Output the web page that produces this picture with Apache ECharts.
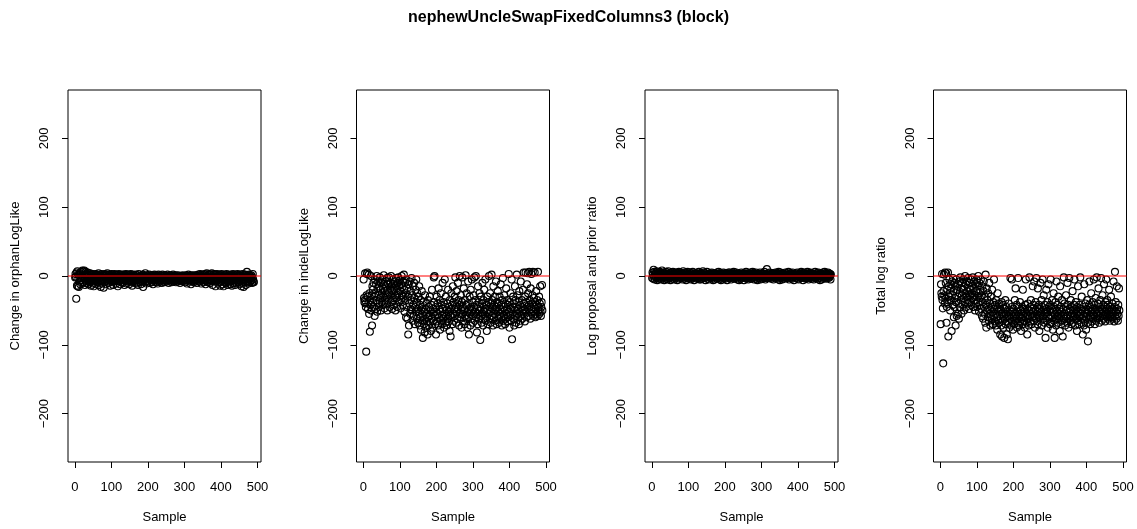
<!DOCTYPE html>
<html>
<head>
<meta charset="utf-8">
<title>nephewUncleSwapFixedColumns3 (block)</title>
<script src="https://cdn.jsdelivr.net/npm/echarts@6/dist/echarts.min.js"></script>
<style>
  html, body { margin: 0; padding: 0; background: #ffffff; }
  #chart { width: 1137px; height: 529px; }
</style>
</head>
<body>
<div id="chart"></div>
<script>
// Per-sample diagnostics of the nephewUncleSwapFixedColumns3 (block) move, samples 1..490.
const chartTitle = 'nephewUncleSwapFixedColumns3 (block)';
const panelTitles = ['Change in orphanLogLike', 'Change in indelLogLike', 'Log proposal and prior ratio', 'Total log ratio'];
const xTickValues = [0, 100, 200, 300, 400, 500];
const yTickValues = [-200, -100, 0, 100, 200];
const xAxisName = 'Sample';
const referenceLevel = 0;

const orphanLogLike = [
  -2, 3, -1, -33, 5, -14, 7, -15, 2, -4,
  -16, 1, -8, 4, -12, -3, 6, -6, 0, -11,
  8, -2, 7, -9, 2, 8, -5, -13, 1, 6,
  -7, 3, -10, -1, 5, -4, -12, 0, -6, 2,
  -9, 4, -3, -14, 1, -5, 3, -8, -1, -11,
  2, -15, -4, 0, -7, 3, -2, -12, 1, -6,
  -3, 2, -9, -1, 4, -13, -5, 1, -8, 0,
  -16, -2, 3, -7, -11, 1, -4, 2, -17, -6,
  0, -9, 3, -3, -12, 1, -5, -1, 4, -8,
  -2, -10, 2, -6, 0, -3, -14, 1, -7, 3,
  -4, -1, -9, 2, -13, -5, 0, -8, 3, -2,
  -6, 1, -11, -3, 2, -7, -1, -15, 0, -4,
  3, -8, -2, -12, 1, -5, -1, -9, 2, -3,
  -10, 0, -6, 2, -4, -13, 1, -7, -2, 3,
  -5, -11, 0, -3, 2, -8, -1, -6, -12, 1,
  -2, -7, 3, -9, -4, 0, -14, -1, 2, -6,
  -8, 1, -3, -10, 0, -5, 2, -2, -11, -4,
  1, -6, -13, -2, 3, -7, -1, -9, 0, -4,
  -12, -3, 1, -8, -5, 2, -16, -1, -6, 0,
  -3, -9, 4, -4, -1, -11, 1, -7, -2, -5,
  0, -8, -3, 2, -10, -1, -5, 1, -6, -2,
  -9, 0, -4, -12, 1, -3, -7, 2, -1, -5,
  -2, -6, 1, -9, -3, 0, -11, -4, 2, -7,
  -1, -5, -8, 1, -2, -6, 0, -10, -3, 2,
  -4, -7, 0, -3, -9, 1, -5, -2, -6, 0,
  -8, -1, -4, 2, -6, -3, -10, 0, -5, -2,
  1, -7, -3, -1, -9, 0, -4, -6, 2, -8,
  -3, -5, 0, -7, -2, 1, -9, -4, -1, -6,
  -2, -8, 1, -4, -6, -1, -3, -10, 0, -5,
  -7, 0, -3, -5, 1, -8, -2, -4, -6, 0,
  -1, -9, -3, 1, -6, -2, -11, 0, -4, -7,
  2, -5, -1, -8, -3, 0, -6, -12, 1, -4,
  -3, -7, 0, -2, -9, 1, -5, -1, -8, -4,
  -6, 1, -4, -10, 0, -2, -7, 2, -3, -5,
  -1, -8, 3, -5, -2, -11, 0, -4, -6, 2,
  -3, -9, 1, -1, -7, 3, -5, -12, 0, -2,
  4, -6, -2, -9, 1, -4, 3, -8, -1, -5,
  -10, 2, -3, -6, 4, -1, -13, 0, -5, 3,
  -2, -7, 1, -4, -15, 2, -8, -1, 3, -6,
  -3, -11, 0, -5, 2, -9, -1, -14, 1, -4,
  -7, 3, -2, -12, 0, -6, -15, 1, -4, -9,
  2, -3, -10, -1, -6, 3, -8, -13, 0, -4,
  -5, 1, -9, -2, -12, 2, -7, -1, -4, -14,
  0, -6, 3, -10, -3, 1, -8, -1, -13, -5,
  2, -4, -11, 0, -7, 3, -2, -9, -5, 1,
  -12, -3, 0, -8, 2, -15, -5, -1, -10, 3,
  -6, -16, 1, -4, -9, 2, -2, -13, 0, -7,
  6, -3, -8, 1, -11, -5, 2, -2, -9, 0,
  -4, -7, 1, -6, -10, -2, 3, -5, -8, -9
];

const indelLogLike = [
  -5, -32, -38, -35, 4, -40, -45, -110, -28, 3,
  5, -30, -48, -40, 2, -55, -25, -81, -35, -42,
  0, -50, -28, -72, -15, -20, -38, -10, -45, -30,
  -58, -5, -25, -48, -12, -35, 0, -52, -18, -40,
  -8, -28, -45, -15, -2, -32, -20, -50, -10, -38,
  -25, -5, -42, -18, -30, 1, -12, -47, -22, -35,
  -15, -40, -8, -28, -3, -50, -20, -12, -33, -2,
  -25, -45, -10, -18, -38, 0, -30, -15, -48, -22,
  -5, -35, -12, -42, -20, -8, -28, -50, -15, -3,
  -32, -18, -45, -10, -25, -2, -38, -14, -30, -6,
  -22, -47, -12, -35, 0, -28, -16, -42, -8, -30,
  2, -20, -52, -10, -36, -25, -60, -5, -45, -18,
  -62, -30, -85, -12, -72, -40, -8, -55, -22, -48,
  -35, -3, -50, -28, -65, -15, -42, -58, -10, -32,
  -70, -45, -20, -52, -5, -38, -62, -25, -48, -68,
  -30, -55, -15, -72, -42, -60, -35, -78, -50, -22,
  -65, -45, -90, -58, -38, -70, -52, -82, -28, -62,
  -48, -75, -40, -66, -55, -85, -35, -60, -72, -45,
  -58, -30, -68, -50, -80, -42, -62, -20, -75, -55,
  -48, -65, -2, -38, 0, -58, -70, -45, -85, -52,
  -30, -66, -55, -40, -72, -18, -60, -48, -35, -78,
  -52, -25, -65, -42, -70, -58, -10, -48, -62, -38,
  -75, -55, -5, -45, -68, -30, -58, -50, -72, -40,
  -62, -20, -52, -66, -45, -80, -35, -58, -88, -48,
  -25, -60, -42, -70, -15, -55, -38, -65, -48, -30,
  -58, -2, -45, -68, -22, -52, -40, -62, -10, -48,
  -35, -72, -55, 0, -42, -60, -28, -50, -75, -38,
  -2, -55, -45, -65, -18, -50, -70, -35, -58, 1,
  -42, -62, -25, -52, -75, -40, -8, -60, -85, -48,
  -30, -55, -72, -20, -45, -62, -5, -50, -38, -68,
  -58, -28, -45, -2, -65, -52, -35, 0, -60, -42,
  -82, -48, -70, -15, -55, -38, -62, -25, -50, -93,
  -45, -30, -58, -68, -40, -10, -55, -72, -35, -52,
  -20, -62, -48, -5, -65, -42, -58, -80, -30, -50,
  -70, -38, -55, 0, -45, -62, -25, -52, -68, -40,
  2, -58, -35, -48, -72, -15, -60, -42, -55, -30,
  -65, -50, -8, -45, -70, -38, -58, -22, -52, -62,
  -40, -68, -30, -55, -48, -12, -60, -42, -72, -35,
  -52, -3, -65, -45, -58, -28, -50, -70, -40, -62,
  -18, -55, -48, -35, -66, -42, -60, 3, -52, -75,
  -38, -58, -25, -48, -65, -5, -92, -45, -55, -30,
  -62, -40, -72, -50, -15, -58, -35, -68, -45, 2,
  -55, -28, -48, -60, -38, -70, -22, -52, -42, -65,
  -8, -58, -45, -35, -62, -50, -20, -55, 5, -40,
  -48, -66, -30, 5, -52, -38, -60, -12, -45, 4,
  -25, -58, -42, 6, -50, -35, -62, -18, -48, 3,
  -55, -40, -28, 6, -58, -45, -32, -52, 5, -38,
  -60, -48, -22, -55, -42, -35, -58, 6, -50, -45,
  -30, -55, -40, -15, -52, -58, -45, -38, -13, -50
];

const logProposalPrior = [
  -3, 5, 2, -4, 9, -1, 6, -5, 3, 0,
  4, -2, 7, 1, -6, 3, -3, 5, -1, 2,
  -4, 6, 0, -2, 4, -5, 2, 8, -1, 3,
  1, -3, 5, -6, 2, 0, 4, -2, 6, -4,
  3, -1, -5, 2, 7, -3, 1, 4, -2, 0,
  -6, 2, 5, -1, 3, -4, 0, 6, -2, 4,
  2, -5, 1, 3, -3, 5, -1, 0, 4, -6,
  0, 4, -2, 6, 1, -4, 3, -1, 5, 2,
  -3, 1, 4, -5, 2, 7, -2, 0, 3, -4,
  5, -1, 2, -6, 4, 0, -3, 6, 1, -2,
  3, -4, 0, 5, -2, 2, -5, 1, 4, -1,
  -2, 6, 1, -3, 3, -6, 0, 4, -1, 2,
  4, -1, -4, 2, 0, 5, -3, 1, 6, -5,
  1, 3, -2, -5, 4, 0, 2, -4, 3, 7,
  -1, 2, 5, -3, 0, 4, -6, 1, -2, 3,
  6, -4, 1, 2, -1, -5, 3, 0, 4, -2,
  0, 3, -3, 5, 1, -2, 4, -6, 2, -1,
  2, -5, 4, 0, -2, 3, 1, -4, 5, -1,
  -3, 1, 6, -2, 3, -4, 0, 2, -6, 4,
  1, -1, 3, -5, 2, 5, -3, 0, 4, -2,
  -4, 2, 0, 4, -1, -6, 3, 1, -2, 5,
  3, -3, 5, -1, 0, 2, -5, 4, 1, -2,
  -1, 4, -2, 6, -4, 1, 3, -3, 0, 2,
  5, -2, 1, -5, 3, 0, -1, 4, -6, 2,
  -2, 3, -4, 1, 5, -1, 2, -3, 0, 4,
  1, -6, 3, 0, -2, 4, -1, 6, -4, 2,
  -3, 0, 2, -5, 4, 1, -2, 3, -1, 5,
  2, -4, 0, 3, -3, 6, 1, -1, 4, -5,
  -1, 3, -2, 1, 5, -4, 0, 2, -6, 3,
  4, -1, 2, -3, 0, 5, -5, 1, 3, -2,
  0, 2, -4, 4, -1, 3, -2, 6, 1, -3,
  -5, 1, 3, -2, 10, 0, -3, 2, 4, -1,
  2, -3, 5, 0, -1, 3, -4, 1, -2, 4,
  -1, 4, -5, 2, 1, -2, 3, 0, 5, -3,
  3, 0, -2, 4, -4, 1, 6, -1, 2, -6,
  -2, 5, 1, -3, 3, 0, -5, 4, -1, 2,
  1, -4, 3, 0, -2, 5, 2, -3, 4, -1,
  -3, 2, -1, 6, 0, -5, 3, 1, -2, 4,
  4, -2, 2, -4, 5, 1, -1, 3, -6, 0,
  -1, 3, -3, 1, 4, -2, 0, 5, -4, 2,
  2, -5, 0, 3, -1, 4, -3, 1, 6, -2,
  0, 4, -2, -6, 2, 1, 5, -3, 3, -1,
  -4, 1, 3, -1, 0, 6, -2, 2, -5, 4,
  3, -3, 1, 5, -2, 0, 4, -4, 2, -1,
  -2, 2, -5, 0, 3, -1, 6, 1, -3, 4,
  1, -1, 4, -4, 2, 5, -2, 0, 3, -6,
  -3, 4, 0, 2, -5, 1, 3, -1, 5, -2,
  2, -2, 6, -3, 1, 4, -4, 0, -1, 3,
  -1, 5, -3, 1, 4, -2, 0, 3, -5, 2
];

const totalLogRatio = [
  -70, -12, -25, -30, 3, -35, -47, -127, -22, 2,
  -28, -40, 5, -33, -10, 4, -68, -45, -20, -38,
  5, -88, -15, -30, -5, -25, -50, -12, -35, -18,
  -80, -8, -28, -42, -3, -22, -60, -10, -45, -32,
  -15, -72, -38, -5, -58, -20, -30, -55, -12, -40,
  -62, -8, -25, -45, -2, -35, -18, -55, -28, -10,
  -42, -20, -5, -32, -50, -15, -38, 0, -25, -12,
  -45, -30, -8, -22, -40, -3, -35, -18, -48, -28,
  -10, -38, -20, -5, -42, -25, -15, -32, -2, -45,
  -18, -35, -8, -28, -50, -12, -40, -22, -5, -30,
  -45, -15, -38, 0, -25, -52, -10, -32, -20, -42,
  -5, -48, -28, -58, -15, -38, -62, -22, -8, -45,
  -55, -30, -68, 2, -42, -75, -18, -50, -35, -60,
  -25, -48, -65, -10, -55, -40, -72, -30, -58, -45,
  -62, -20, -52, -70, -38, -58, -5, -48, -66, -42,
  -55, -72, -35, -60, -48, -78, -25, -65, -52, -40,
  -68, -58, -45, -85, -62, -50, -72, -38, -88, -55,
  -65, -42, -75, -58, -90, -48, -62, -35, -70, -55,
  -45, -85, -60, -52, -92, -68, -40, -58, -75, -50,
  -62, -3, -55, -72, -45, -5, -65, -52, -78, -60,
  -48, -70, -58, -35, -65, -18, -55, -62, -42, -75,
  -52, -68, -3, -58, -45, -72, -60, -38, -66, -50,
  -80, -55, -62, -45, -70, -20, -58, -48, -65, -52,
  -75, -42, -60, -5, -55, -68, -48, -85, -58, -40,
  -62, -72, -50, -2, -58, -45, -66, -35, -55, -70,
  -48, -60, -15, -52, -42, -65, -8, -58, -75, -50,
  -38, -62, -3, -55, -45, -70, -18, -52, -60, -42,
  -80, -48, -58, -10, -65, -52, -35, -72, -45, -5,
  -58, -62, -28, -50, -68, -42, -55, -90, -48, -20,
  -65, -52, -38, -75, -58, -12, -45, -62, -50, -70,
  -42, -5, -58, -68, -48, -35, -60, -78, -52, -25,
  -65, -45, -90, -55, -38, -62, -72, -8, -50, -58,
  -42, -68, -30, -55, -62, -48, -80, -15, -58, -45,
  -70, -52, -35, -65, -88, -48, -58, -2, -62, -40,
  -55, -72, -45, -28, -60, -50, -68, -10, -58, -42,
  -75, -52, -3, -62, -48, -65, -35, -58, -70, -45,
  -55, -22, -68, -50, -60, -42, -5, -58, -72, -48,
  -38, -62, -55, -80, -45, -65, -15, -52, -58, -70,
  -42, -60, -2, -55, -48, -68, -30, -62, -50, -85,
  -45, -58, -72, -12, -52, -65, -40, -60, -78, -48,
  -55, -35, -68, -95, -50, -62, -42, -8, -58, -70,
  -45, -60, -25, -52, -66, -48, -38, -62, -55, -5,
  -58, -42, -70, -50, -32, -65, -48, -2, -55, -62,
  -40, -58, -18, -52, -68, -45, -60, -35, -55, -3,
  -48, -65, -50, -28, -58, -42, -62, -12, -52, -45,
  -66, -38, -55, -5, -60, -48, -35, -58, -42, -62,
  -50, -20, -55, -65, -45, -58, -30, -52, -60, -48,
  -40, -62, -55, -8, -50, -66, -45, 6, -58, -38,
  -52, -62, -15, -48, -55, -65, -42, -58, -18, -50
];

const panelSeries = [orphanLogLike, indelLogLike, logProposalPrior, totalLogRatio];

// Shared axis extent: ±260 padded by 4%, and samples 1..490 padded by 4%.
const yLimit = 260 * 1.04;
const nSamples = orphanLogLike.length;
const xPad = (nSamples - 1) * 0.04;
const xMin = 1 - xPad;
const xMax = nSamples + xPad;

const fontFamily = '"Liberation Sans", Arial, Helvetica, sans-serif';
const panelLefts = [68, 356.5, 645, 933.5];
const panelWidth = 193;
const panelTop = 90;
const panelHeight = 375;

const grids = [], xAxes = [], yAxes = [], series = [];
panelSeries.forEach((vals, p) => {
  grids.push({
    left: panelLefts[p], top: panelTop, width: panelWidth, height: panelHeight,
    show: true, borderColor: '#000', borderWidth: 1, backgroundColor: 'transparent'
  });
  xAxes.push({
    type: 'value', gridIndex: p,
    min: xMin, max: xMax,
    splitLine: { show: false },
    axisLine: { show: false, onZero: false },
    axisTick: { show: true, length: 6, customValues: xTickValues, lineStyle: { color: '#000', width: 1 } },
    axisLabel: { customValues: xTickValues, margin: 19, color: '#000', fontSize: 13, fontFamily: fontFamily },
    name: xAxisName, nameLocation: 'middle', nameGap: 49,
    nameTextStyle: { color: '#000', fontSize: 13, fontFamily: fontFamily }
  });
  yAxes.push({
    type: 'value', gridIndex: p,
    min: -yLimit, max: yLimit,
    splitLine: { show: false },
    axisLine: { show: false, onZero: false },
    axisTick: { show: true, length: 6, customValues: yTickValues, lineStyle: { color: '#000', width: 1 } },
    axisLabel: {
      customValues: yTickValues, rotate: 90, margin: 17, color: '#000', fontSize: 13, fontFamily: fontFamily,
      formatter: v => (v < 0 ? '\u2212' + Math.abs(v) : String(v))
    },
    name: panelTitles[p], nameLocation: 'middle', nameRotate: 90, nameGap: 46,
    nameTextStyle: { color: '#000', fontSize: 13, fontFamily: fontFamily }
  });
  series.push({
    type: 'scatter', xAxisIndex: p, yAxisIndex: p,
    data: vals.map((v, i) => [i + 1, v]),
    symbol: 'circle', symbolSize: 7,
    itemStyle: { color: 'rgba(0,0,0,0)', borderColor: '#000', borderWidth: 1.1, opacity: 1 },
    emphasis: { disabled: true },
    z: 2
  });
  // Horizontal reference line at zero, spanning the full axis extent, above the points
  series.push({
    type: 'line', xAxisIndex: p, yAxisIndex: p,
    data: [[xMin, referenceLevel], [xMax, referenceLevel]],
    symbol: 'none', silent: true,
    lineStyle: { color: '#ff0000', width: 1, type: 'solid' },
    emphasis: { disabled: true },
    z: 10
  });
});

const chart = echarts.init(document.getElementById('chart'), null, { renderer: 'canvas' });
chart.setOption({
  animation: false,
  backgroundColor: '#ffffff',
  title: {
    text: chartTitle, left: 'center', top: 5,
    textStyle: { color: '#000', fontSize: 16, fontWeight: 'bold', fontFamily: fontFamily }
  },
  grid: grids,
  xAxis: xAxes,
  yAxis: yAxes,
  series: series
});
</script>
</body>
</html>
